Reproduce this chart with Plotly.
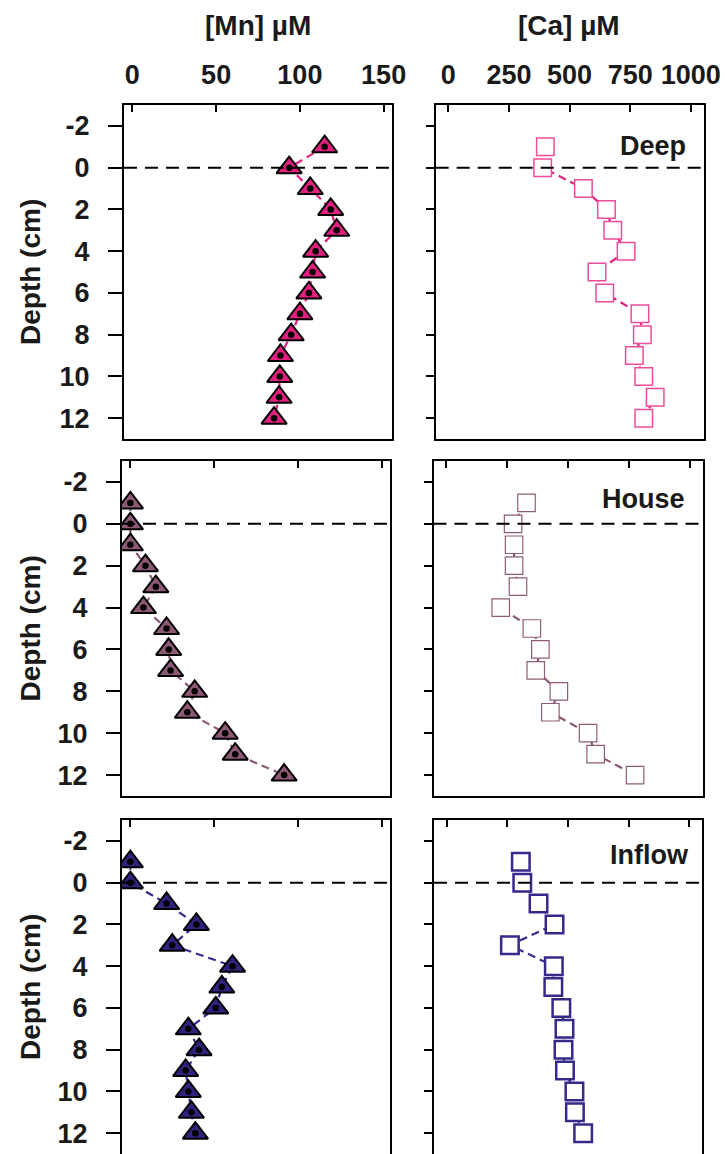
import plotly.graph_objects as go

# ---------------- data ----------------
depth = [-1, 0, 1, 2, 3, 4, 5, 6, 7, 8, 9, 10, 11, 12]

sites = ["Deep", "House", "Inflow"]

mn_deep = [114.8, 93.6, 106.2, 118.4, 122, 109.4, 107.6, 105.4, 100, 94.8, 88.4, 88, 87.6, 84.6]
ca_deep = [400, 389, 557, 652, 678, 733, 613, 645, 790, 800, 767, 806, 853, 806]

mn_house = [0, 0, 0, 9, 15.2, 7.8, 21.6, 22.9, 24, 38.4, 34, 56.6, 62.6, 91.8]
ca_house = [330, 275, 279, 279, 295, 224, 352, 387, 368, 463, 428, 583, 614, 776]

mn_inflow = [0, 0, 21.6, 39.4, 25, 61, 54.6, 51, 34.6, 41, 33, 34.6, 36.4, 38.8]
ca_inflow = [306, 312, 379, 445, 261, 442, 440, 473, 486, 482, 488, 527, 529, 563]

mn_ticks = [0, 50, 100, 150]
ca_ticks = [0, 250, 500, 750, 1000]
depth_ticks = [-2, 0, 2, 4, 6, 8, 10, 12]
depth_ticktext = ["-2", "0", "2", "4", "6", "8", "10", "12"]

mn_series = [mn_deep, mn_house, mn_inflow]
ca_series = [ca_deep, ca_house, ca_inflow]

# ---------------- styles ----------------
W, H = 725, 1154
tri_fill = ["#E3207F", "#8E5877", "#33217F"]
line_col = ["#E3207F", "#8A5A76", "#3A2A8E"]
sq_col = ["#EE4C98", "#8E5C78", "#352A8A"]
sq_lw = [1.5, 1.2, 2.5]

FONT = "Arial, Liberation Sans, sans-serif"
FS = 27
FS_T = 28

# pixel geometry of the panels (left, right, top, bottom)
rows_px = [
    dict(lx=(124, 392), rx=(435.7, 703.7), y=(105, 439)),
    dict(lx=(122, 390), rx=(433.5, 702.5), y=(461, 796)),
    dict(lx=(122, 390), rx=(434, 702), y=(820, 1154)),
]
label_y = [-1.05, -1.2, -1.3]
label_x = [0.941, 0.941, 0.958]

fig = go.Figure()
layout = dict(
    width=W, height=H,
    margin=dict(l=0, r=0, t=0, b=0, pad=0),
    paper_bgcolor="white", plot_bgcolor="white",
    showlegend=False,
    font=dict(family=FONT, color="#1a1a1a"),
)
annotations = []
shapes = []

for r in range(3):
    g = rows_px[r]
    ydom = [1 - g["y"][1] / H, 1 - g["y"][0] / H]
    for c in range(2):
        idx = r * 2 + c + 1
        xn = "x" if idx == 1 else f"x{idx}"
        yn = "y" if idx == 1 else f"y{idx}"
        xa = "xaxis" if idx == 1 else f"xaxis{idx}"
        ya = "yaxis" if idx == 1 else f"yaxis{idx}"
        xpx = g["lx"] if c == 0 else g["rx"]
        xdom = [xpx[0] / W, xpx[1] / W]

        layout[xa] = dict(
            domain=xdom, anchor=yn, side="top",
            range=[-5, 155] if c == 0 else [-52, 1053],
            tickvals=mn_ticks if c == 0 else ca_ticks,
            ticks="inside", ticklen=7, tickwidth=2, tickcolor="black",
            showticklabels=(r == 0), tickangle=0,
            tickfont=dict(family=FONT, size=FS, weight="bold", color="#1a1a1a"),
            ticklabelstandoff=8,
            showline=True, linewidth=2, linecolor="black",
            mirror=(r != 2), automargin=False,
            showgrid=False, zeroline=False, fixedrange=True,
        )
        layout[ya] = dict(
            domain=ydom, anchor=xn,
            range=[13, -3],
            tickvals=depth_ticks, ticktext=depth_ticktext,
            ticks="outside", ticklen=14 if c == 0 else 8, tickwidth=2, tickcolor="black",
            showticklabels=(c == 0),
            tickfont=dict(family=FONT, size=FS, weight="bold", color="#1a1a1a"),
            ticklabelstandoff=13,
            showline=True, linewidth=2, linecolor="black", mirror=True,
            automargin=False,
            showgrid=False, zeroline=False, fixedrange=True,
        )

        # zero depth dashed line
        shapes.append(dict(
            type="line", xref=f"{xn} domain", yref=yn,
            x0=0, x1=1, y0=0, y1=0,
            line=dict(color="black", width=2, dash="13px,8px"),
        ))

        if c == 0:
            vals = mn_series[r]
            fig.add_trace(go.Scatter(
                x=vals, y=depth, xaxis=xn, yaxis=yn, mode="lines+markers",
                line=dict(color=line_col[r], width=2.2, dash="8px,5px"),
                marker=dict(symbol="triangle-up", size=22, color=tri_fill[r],
                            line=dict(color="black", width=2)),
                hoverinfo="skip",
            ))
            fig.add_trace(go.Scatter(
                x=vals, y=depth, xaxis=xn, yaxis=yn, mode="markers",
                marker=dict(symbol="circle", size=6.5, color="black"),
                hoverinfo="skip",
            ))
        else:
            vals = ca_series[r]
            fig.add_trace(go.Scatter(
                x=vals, y=depth, xaxis=xn, yaxis=yn, mode="lines+markers",
                line=dict(color=line_col[r], width=2.2, dash="8px,5px"),
                marker=dict(symbol="square", size=17.5, color="white",
                            line=dict(color=sq_col[r], width=sq_lw[r])),
                hoverinfo="skip",
            ))
            annotations.append(dict(
                text=sites[r], xref=f"{xn} domain", yref=yn,
                x=label_x[r], y=label_y[r], xanchor="right", yanchor="middle",
                showarrow=False,
                font=dict(family=FONT, size=FS, weight="bold", color="#1a1a1a"),
            ))

    # Depth title
    yc = 1 - (g["y"][0] + g["y"][1]) / 2 / H
    annotations.append(dict(
        text="Depth (cm)", xref="paper", yref="paper",
        x=30 / W, y=yc, xanchor="center", yanchor="middle",
        textangle=-90, showarrow=False,
        font=dict(family=FONT, size=FS_T, weight="bold", color="#1a1a1a"),
    ))

annotations.append(dict(
    text="[Mn] µM", xref="paper", yref="paper", x=258 / W, y=1 - 25 / H,
    xanchor="center", yanchor="middle", showarrow=False,
    font=dict(family=FONT, size=FS_T, weight="bold", color="#1a1a1a"),
))
annotations.append(dict(
    text="[Ca] µM", xref="paper", yref="paper", x=569 / W, y=1 - 25 / H,
    xanchor="center", yanchor="middle", showarrow=False,
    font=dict(family=FONT, size=FS_T, weight="bold", color="#1a1a1a"),
))

layout["annotations"] = annotations
layout["shapes"] = shapes
fig.update_layout(**layout)
fig.write_html(
    "out.html",
    config={"displayModeBar": False, "responsive": False},
    post_script="document.body.style.margin='0px';document.body.style.overflow='hidden';",
)
